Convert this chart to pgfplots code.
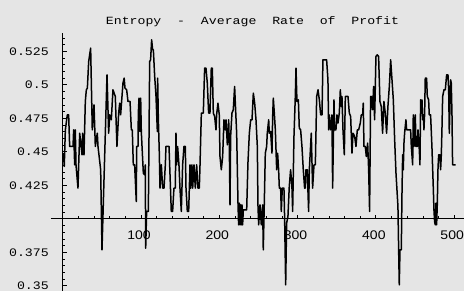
\documentclass[border=0pt]{standalone}
\usepackage{pgfplots}
\pgfplotsset{compat=1.18}
\usepackage{fontspec}
\setmainfont{Liberation Sans}
\newfontfamily\titlefont[FakeStretch=1.2]{Liberation Mono}
\newfontfamily\ylabfont[FakeStretch=1.15]{Liberation Mono}
\newfontfamily\xlabfont[FakeStretch=1.12]{Liberation Sans}
\definecolor{bg}{RGB}{229,229,229}
\begin{document}
\begin{tikzpicture}[x=1pt,y=1pt]
\fill[bg] (0,0) rectangle (464,291);
\path[use as bounding box] (0,0) rectangle (464,291);
\begin{axis}[at={(50.95pt,0.2pt)}, anchor=south west, scale only axis,
  width=412.6pt, height=257.7pt, xmin=-15, xmax=512, ymin=0.3463, ymax=0.5386,
  hide axis, clip=false]
\addplot[black, line width=1.5pt, line join=round] coordinates {
(1,0.4490) (2,0.4391) (3.4,0.4664) (5.9,0.4776) (7.6,0.4776) (8.9,0.4540) (13.2,0.4540) (14.0,0.4664) (15.3,0.4403) (16.1,0.4664) (17.0,0.4403) (19.5,0.4229) (21.7,0.4639) (24.7,0.4478) (25.5,0.4639) (27.2,0.4478) (28.9,0.4876) (30.2,0.4963) (31.5,0.4975) (33.2,0.5174) (35.7,0.5274) (37.8,0.4664) (40.0,0.4851) (41.7,0.4540) (44.2,0.4639) (45.1,0.4540) (48.5,0.4366) (50.2,0.3769) (53.6,0.4465) (56.6,0.5075) (58.7,0.4639) (60.0,0.4776) (62.1,0.4739) (64.2,0.4963) (67.2,0.4913) (69.3,0.4540) (71.5,0.4789) (72.8,0.4863) (74.0,0.4776) (77.0,0.5013) (78.5,0.5050)
(79.6,0.4975) (81.7,0.4963) (83.4,0.4876) (86.0,0.4876) (87.7,0.4664) (88.9,0.4664) (90.2,0.4403) (91.9,0.4403) (94.0,0.4129) (94.5,0.4540) (96.2,0.4540) (96.6,0.4789) (97.5,0.4901) (98.7,0.4652) (99.6,0.4901) (100.4,0.4652) (103.0,0.4341) (104.7,0.4328) (105.5,0.4403) (106.0,0.3781) (107.2,0.4055) (109.4,0.4055) (111.1,0.5174) (112.3,0.5187) (113.6,0.5336) (114.9,0.5261) (115.8,0.5261) (117.5,0.5062) (119.2,0.4913) (120.9,0.4652) (121.3,0.5050) (122.1,0.4764) (123.4,0.4490) (124.3,0.4229) (126.0,0.4403) (127.7,0.4229) (129.4,0.4229) (131.1,0.4403) (131.9,0.4540) (135.8,0.4540) (137.0,0.4341) (138.7,0.4055) (140.4,0.4055) (142.1,0.4229) (143.8,0.4229) (144.7,0.4639) (145.5,0.4403) (146.8,0.4540) (148.5,0.4403) (149.8,0.4229) (151.5,0.4055) (153.2,0.4403) (154.9,0.4540) (156.6,0.4540) (157.5,0.4229) (159.2,0.4055) (160.9,0.4055) (162.6,0.4403)
(163.4,0.4229) (165.1,0.4403) (166.0,0.4229) (167.7,0.4403) (169.4,0.4229) (171.1,0.4403) (172.8,0.4229) (174.5,0.4229) (175.4,0.4403) (177.1,0.4789) (179.6,0.4789) (181.3,0.5125) (183.0,0.5125) (184.7,0.5013) (186.4,0.4789) (188.1,0.4789) (189.8,0.5125) (191.1,0.5125) (192.4,0.4789) (194.1,0.4764) (195.8,0.4664) (196.6,0.4776) (198.3,0.4863) (200.0,0.4776) (200.9,0.4465) (202.6,0.4366) (204.3,0.4465) (206.0,0.4739) (207.7,0.4664) (208.6,0.4739) (210.3,0.4552) (212.0,0.4739) (212.8,0.4552) (213.7,0.4104) (214.5,0.4615) (216.2,0.4789) (217.9,0.4814) (219.6,0.4988) (220.5,0.4863) (222.2,0.4639) (223.9,0.4117) (224.7,0.3955) (225.6,0.4117) (226.4,0.3955) (227.3,0.4104) (228.1,0.3955) (229.0,0.4104) (229.8,0.3955) (230.7,0.4067) (235.0,0.4067) (236.6,0.4415) (238.4,0.4639) (240.1,0.4739) (241.8,0.4739) (243.5,0.4938) (245.2,0.4863) (246.9,0.4739)
(248.6,0.4540) (249.4,0.4104) (250.3,0.3955) (252.0,0.4104) (253.7,0.3955) (255.4,0.4104) (256.2,0.3769) (257.5,0.4117) (258.8,0.4490) (260.5,0.4540) (261.3,0.4639) (263.1,0.4739) (263.9,0.4639) (265.6,0.4652) (267.3,0.4490) (268.2,0.4764) (269.0,0.4901) (270.3,0.4789) (271.6,0.4664) (273.3,0.4366) (274.5,0.4490) (275.8,0.4366) (276.7,0.4229) (278.4,0.4229) (279.2,0.4055) (280.5,0.4229) (282.6,0.4229) (283.5,0.3993) (284.8,0.3507) (286.0,0.3968) (287.7,0.4017) (289.4,0.4241) (291.1,0.4366) (292.8,0.4241) (293.7,0.4055) (295.4,0.4615) (297.1,0.4913) (298.0,0.5125) (299.2,0.4876) (301.0,0.4888) (302.2,0.4677) (303.9,0.4664) (305.6,0.4540) (307.3,0.4366) (309.0,0.4229) (309.9,0.4229) (310.7,0.4366) (312.4,0.4366) (314.1,0.4055) (315.0,0.4366) (317.5,0.4639) (319.2,0.4229) (321.0,0.4403) (322.7,0.4403) (324.4,0.4913) (326.1,0.4963) (327.8,0.4888) (329.5,0.4776) (331.2,0.4776)
(332.4,0.5187) (337.1,0.5187) (338.8,0.5037) (339.7,0.4664) (340.5,0.4776) (342.2,0.4664) (343.9,0.4776) (344.8,0.4229) (346.5,0.4888) (347.3,0.4664) (349.0,0.4664) (350.3,0.4776) (351.6,0.4714) (353.3,0.4789) (354.6,0.4963) (355.9,0.4838) (356.7,0.4913) (358.0,0.4664) (359.7,0.4478) (361.0,0.4913) (364.4,0.4913) (366.1,0.4789) (367.8,0.4764) (369.5,0.4490) (370.8,0.4639) (372.9,0.4615) (374.6,0.4540) (376.3,0.4664) (378.0,0.4664) (380.1,0.4714) (381.4,0.4776) (383.1,0.4776) (383.9,0.4863) (384.8,0.4540) (386.5,0.4540) (387.8,0.4465) (389.5,0.4565) (390.8,0.4366) (392.0,0.4055) (393.3,0.4913) (394.2,0.4913) (395.9,0.4814) (397.1,0.4988) (398.4,0.4739) (400.1,0.5212) (401.8,0.5224) (403.5,0.5212) (405.2,0.4876) (406.9,0.4838) (408.6,0.4639) (410.3,0.4876) (412.0,0.4789) (413.7,0.4639) (415.4,0.4838)
(417.2,0.4988) (418.9,0.5187) (420.6,0.5037) (422.3,0.4888) (424.0,0.4590) (425.7,0.4341) (428.2,0.4092) (429.1,0.3769) (429.9,0.3507) (430.8,0.3769) (432.5,0.3769) (433.3,0.4167) (434.2,0.4478) (435.0,0.4366) (435.9,0.4565) (436.7,0.4639) (438.4,0.4739) (439.3,0.4664) (444.4,0.4664) (445.3,0.4540) (447.0,0.4403) (447.8,0.4776) (448.7,0.4540) (449.5,0.4639) (450.4,0.4776) (451.2,0.4540) (452.9,0.4540) (453.8,0.4664) (455.5,0.4515) (456.3,0.4403) (457.2,0.4888) (458.0,0.4789) (458.9,0.4888) (459.7,0.4739) (460.6,0.4776) (461.4,0.4664) (462.3,0.4789) (463.1,0.5050) (464.8,0.5050) (465.7,0.4913) (467.4,0.4888) (468.2,0.4776) (469.9,0.4776) (471.6,0.4540) (473.3,0.4241) (474.2,0.4067) (475.0,0.3980) (475.9,0.3955) (476.7,0.4117) (477.6,0.3955) (478.5,0.4117) (479.3,0.4366) (480.2,0.4478) (481.9,0.4478) (482.7,0.4366) (483.6,0.4478) (484.4,0.4664) (485.3,0.4913) (487.0,0.4963) (488.7,0.4963) (490.4,0.5075) (492.1,0.5075) (493.0,0.4963) (493.8,0.4639) (494.6,0.4838) (495.5,0.5037) (496.3,0.5013) (497.2,0.4789) (498.0,0.4403) (499.7,0.4403) (501.9,0.4403)
};
\draw[line width=0.8pt] (axis cs:-15,0.4) -- (axis cs:512,0.4);
\draw[line width=0.8pt] (axis cs:0,0.3463) -- (axis cs:0,0.5386);
\pgfplotsinvokeforeach{100,200,300,400,500}{
  \draw[line width=0.8pt] (axis cs:#1,0.4) -- ++(0pt,4pt);
  \node[font={\fontsize{12.5}{14}\xlabfont}, inner sep=0pt, xshift=-2pt, yshift=-16.3pt] at (axis cs:#1,0.4) {#1};
}
\pgfplotsinvokeforeach{20,40,60,80,120,140,160,180,220,240,260,280,320,340,360,380,420,440,460,480}{
  \draw[line width=0.6pt] (axis cs:#1,0.4) -- ++(0pt,2.5pt);
}
\pgfplotsinvokeforeach{0.35,0.375,0.425,0.45,0.475,0.5,0.525}{
  \draw[line width=0.8pt] (axis cs:0,#1) -- ++(4pt,0pt);
  \node[font={\fontsize{11.5}{13}\ylabfont}, inner sep=0pt, anchor=east, xshift=-13.7pt] at (axis cs:0,#1) {#1};
}
\pgfplotsinvokeforeach{0.355,0.36,0.365,0.37,0.38,0.385,0.39,0.395,0.405,0.41,0.415,0.42,0.43,0.435,0.44,0.445,0.455,0.46,0.465,0.47,0.48,0.485,0.49,0.495,0.505,0.51,0.515,0.52,0.53,0.535}{
  \draw[line width=0.6pt] (axis cs:0,#1) -- ++(2.5pt,0pt);
}
\end{axis}
\node[font={\fontsize{11}{13}\titlefont}, anchor=base, inner sep=0pt] at (252.5,266.7) {Entropy~~-~~Average~~Rate~~of~~Profit};
\end{tikzpicture}
\end{document}
